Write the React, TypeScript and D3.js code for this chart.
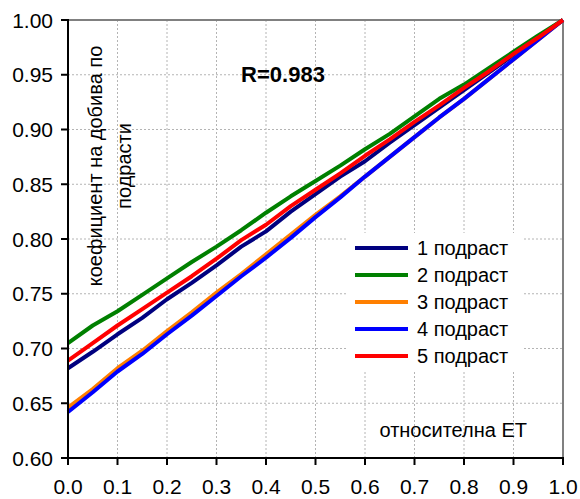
import * as d3 from 'd3';

const xValues = [0, 0.05, 0.1, 0.15, 0.2, 0.25, 0.3, 0.35, 0.4, 0.45, 0.5, 0.55, 0.6, 0.65, 0.7, 0.75, 0.8, 0.85, 0.9, 0.95, 1.0];

const series1 = [0.682, 0.697, 0.713, 0.728, 0.745, 0.760, 0.776, 0.793, 0.807, 0.825, 0.841, 0.857, 0.871, 0.888, 0.904, 0.920, 0.936, 0.952, 0.968, 0.984, 1.0];
const series2 = [0.705, 0.721, 0.734, 0.749, 0.764, 0.779, 0.793, 0.808, 0.824, 0.839, 0.853, 0.867, 0.882, 0.896, 0.912, 0.928, 0.941, 0.956, 0.971, 0.986, 1.0];
const series3 = [0.646, 0.663, 0.682, 0.698, 0.716, 0.733, 0.751, 0.768, 0.786, 0.804, 0.822, 0.839, 0.857, 0.875, 0.893, 0.911, 0.928, 0.946, 0.964, 0.982, 1.0];
const series4 = [0.642, 0.660, 0.679, 0.695, 0.713, 0.730, 0.748, 0.766, 0.783, 0.801, 0.820, 0.838, 0.857, 0.875, 0.893, 0.911, 0.928, 0.946, 0.964, 0.982, 1.0];
const series5 = [0.689, 0.705, 0.721, 0.736, 0.751, 0.766, 0.782, 0.799, 0.813, 0.830, 0.845, 0.860, 0.876, 0.891, 0.907, 0.922, 0.938, 0.953, 0.969, 0.984, 1.0];

const seriesNames = ['1 подраст', '2 подраст', '3 подраст', '4 подраст', '5 подраст'];
const seriesColors = ['#00007f', '#008000', '#ff7f00', '#0000ff', '#ff0000'];
const allSeries = [series1, series2, series3, series4, series5];

const xTicks = [0, 0.1, 0.2, 0.3, 0.4, 0.5, 0.6, 0.7, 0.8, 0.9, 1.0];
const yTicks = [0.6, 0.65, 0.7, 0.75, 0.8, 0.85, 0.9, 0.95, 1.0];

const yTitle = ['коефициент на добива по', 'подрасти'];
const xTitle = 'относителна ЕТ';
const note = 'R=0.983';

const W = 580;
const H = 499;
const left = 68;
const right = 563;
const top = 20;
const bottom = 458;
const font = '"Liberation Sans", Arial, sans-serif';

export default function App() {
  const x = d3.scaleLinear().domain([0, 1]).range([left, right]);
  const y = d3.scaleLinear().domain([0.6, 1.0]).range([bottom, top]);

  const line = d3
    .line<number>()
    .x((d, i) => x(xValues[i]))
    .y(d => y(d));

  return (
    <svg
      width={W}
      height={H}
      style={{ position: 'absolute', left: 0, top: 0, background: '#fff' }}
      fontFamily={font}
    >
      {/* сетка */}
      {xTicks.slice(1, -1).map(t => (
        <line key={'gx' + t} x1={x(t)} x2={x(t)} y1={top} y2={bottom} stroke="#b4b4b4" strokeWidth={1} strokeDasharray="2,2" />
      ))}
      {yTicks.slice(1, -1).map(t => (
        <line key={'gy' + t} x1={left} x2={right} y1={y(t)} y2={y(t)} stroke="#b4b4b4" strokeWidth={1} strokeDasharray="2,2" />
      ))}

      {/* рамка */}
      <line x1={left} x2={right} y1={top} y2={top} stroke="#808080" strokeWidth={2} />
      <line x1={right} x2={right} y1={top} y2={bottom} stroke="#808080" strokeWidth={2} />

      {/* линии */}
      {allSeries.map((s, i) => (
        <path key={i} d={line(s) || ''} fill="none" stroke={seriesColors[i]} strokeWidth={4} strokeLinejoin="round" />
      ))}

      {/* оси */}
      <line x1={left} x2={left} y1={top - 1} y2={bottom + 1} stroke="#000" strokeWidth={2} />
      <line x1={left - 1} x2={right + 1} y1={bottom} y2={bottom} stroke="#000" strokeWidth={2} />
      {yTicks.map(t => (
        <g key={'ty' + t}>
          <line x1={left - 7} x2={left} y1={y(t)} y2={y(t)} stroke="#000" strokeWidth={2} />
          <text x={53} y={y(t) + 7.5} textAnchor="end" fontSize={21} fill="#000">
            {t.toFixed(2)}
          </text>
        </g>
      ))}
      {xTicks.map(t => (
        <g key={'tx' + t}>
          <line x1={x(t)} x2={x(t)} y1={bottom} y2={bottom + 7} stroke="#000" strokeWidth={2} />
          <text x={x(t)} y={494} textAnchor="middle" fontSize={21} fill="#000">
            {t.toFixed(1)}
          </text>
        </g>
      ))}

      {/* легенда */}
      <rect x={346} y={233} width={177} height={137} fill="#fff" />
      {seriesNames.map((n, i) => (
        <g key={n} transform={`translate(355, ${248 + i * 27})`}>
          <line x1={0} x2={53} y1={0} y2={0} stroke={seriesColors[i]} strokeWidth={4} />
          <text x={62} y={7} fontSize={20} fill="#000">
            {n}
          </text>
        </g>
      ))}

      {/* надписи */}
      <text x={283} y={82} textAnchor="middle" fontSize={22} fontWeight="bold" fill="#000">
        {note}
      </text>
      <text x={527} y={437} textAnchor="end" fontSize={20} fill="#000">
        {xTitle}
      </text>
      {yTitle.map((t, i) => (
        <text key={t} transform={`translate(${102 + i * 29}, 166) rotate(-90)`} textAnchor="middle" fontSize={20} fill="#000">
          {t}
        </text>
      ))}
    </svg>
  );
}
